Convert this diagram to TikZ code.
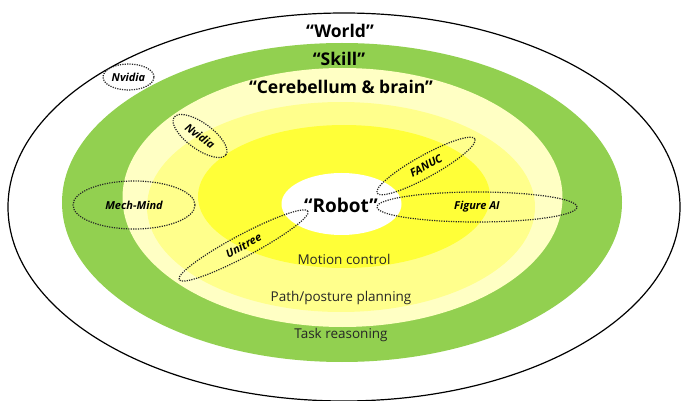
\documentclass[tikz,border=0pt]{standalone}
\usepackage{fontspec}
\setmainfont{Open Sans}
\usetikzlibrary{shapes.geometric}
\definecolor{ringgreen}{HTML}{92D050}
\definecolor{paleyellow}{HTML}{FFFFC4}
\definecolor{midyellow}{HTML}{FFFF8C}
\definecolor{brightyellow}{HTML}{FFFF38}
\tikzset{
  title/.style={font=\bfseries\fontsize{17.5}{20}\selectfont, inner sep=0pt},
  layertext/.style={font=\fontsize{13.5}{16}\selectfont, text=black!85, inner sep=0pt},
  ring/.style={ellipse, draw=black!85, line width=1.2pt, dash pattern=on 1.2pt off 1.2pt,
    inner sep=0pt, font=\bfseries\itshape\fontsize{11}{13}\selectfont},
}
\begin{document}
\begin{tikzpicture}[x=1pt,y=-1pt]
\useasboundingbox (0,0) rectangle (681,401);
\fill[white] (0,0) rectangle (681,401);
% nested layers
\draw[line width=1.2pt, fill=white] (344,207) ellipse [x radius=336, y radius=194];
\fill[ringgreen] (342,202.5) ellipse [x radius=280, y radius=159.5];
\fill[paleyellow] (342.5,197.5) ellipse [x radius=220, y radius=129.5];
\fill[midyellow] (341,207) ellipse [x radius=194, y radius=105];
\fill[brightyellow] (344,196.5) ellipse [x radius=146, y radius=71.5];
\fill[white] (341.5,204) ellipse [x radius=60, y radius=31];
% layer titles
\node[title] (world) at (340,31) {“World”};
\node[title] (skill) at (339,59) {“Skill”};
\node[title] (brain) at (341,87) {“Cerebellum \& brain”};
\node[title, font=\bfseries\fontsize{19}{22}\selectfont] (robot) at (341,205) {“Robot”};
\node[layertext] (motion) at (344,259) {Motion control};
\node[layertext] (path) at (341,298) {Path/posture planning};
\node[layertext] (task) at (341,335) {Task reasoning};
% company rings
\node[ring, minimum width=51pt, minimum height=26pt] (nvidiaA) at (128.5,77) {Nvidia};
\node[ring, minimum width=64pt, minimum height=26pt, rotate=-36] (nvidiaB) at (200,136) {Nvidia};
\node[ring, minimum width=122pt, minimum height=48pt] (mech) at (134,205) {Mech-Mind};
\node[ring, minimum width=112pt, minimum height=22pt, rotate=29] (fanuc) at (426,166) {FANUC};
\node[ring, minimum width=200pt, minimum height=30pt] (figure) at (477,207) {Figure AI};
\node[ring, minimum width=146pt, minimum height=22pt, rotate=28] (unitree) at (243.5,245.5) {Unitree};
\end{tikzpicture}
\end{document}
